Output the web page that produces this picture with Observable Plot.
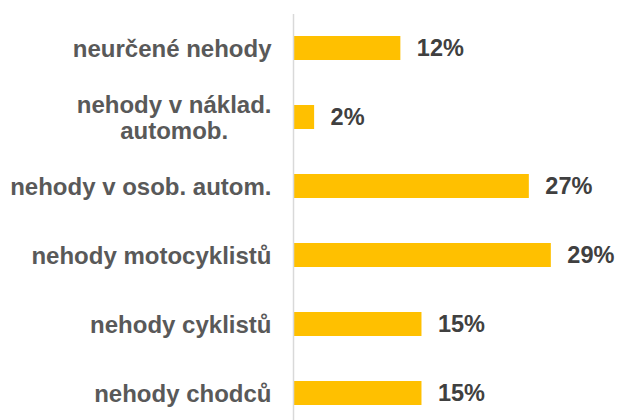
<!DOCTYPE html>
<html>
<head>
<meta charset="utf-8">
<script src="https://cdn.jsdelivr.net/npm/d3@7"></script>
<script src="https://cdn.jsdelivr.net/npm/@observablehq/plot@0.6"></script>
<style>
  html, body { margin: 0; padding: 0; background: #fff; }
  #chart { width: 617px; height: 420px; overflow: hidden; }
</style>
</head>
<body>
<div id="chart"></div>
<script>
const categories = [
  "neurčené nehody",
  "nehody v náklad.\nautomob.",
  "nehody v osob. autom.",
  "nehody motocyklistů",
  "nehody cyklistů",
  "nehody chodců"
];
const values = [12.2, 2.4, 26.8, 29.3, 14.6, 14.6];
const valueLabels = ["12%", "2%", "27%", "29%", "15%", "15%"];

const data = categories.map((c, i) => ({category: c, value: values[i], label: valueLabels[i]}));

const font = "'Liberation Sans', Arial, sans-serif";

const chart = Plot.plot({
  width: 617,
  height: 420,
  marginTop: 14,
  marginBottom: 0,
  marginLeft: 293,
  marginRight: 60,
  style: {fontFamily: font, background: "#fff"},
  x: {domain: [0, 30], range: [293, 557], axis: null},
  y: {domain: categories, range: [13.5, 427.5], paddingInner: 0.652, paddingOuter: 0.326, align: 0.5, axis: null},
  marks: [
    Plot.barX(data, {x: "value", y: "category", fill: "#FFC000"}),
    Plot.ruleX([0], {stroke: "#D9D9D9", strokeWidth: 1.5}),
    Plot.text(data, {
      x: "value", y: "category", text: "label", textAnchor: "start", dx: 16,
      fill: "#404040", fontSize: 23.5, fontWeight: "bold", fontFamily: font
    }),
    Plot.text(data, {
      x: 0, y: "category", text: "category", textAnchor: "end", dx: -22,
      fill: "#595959", fontSize: 24, fontWeight: "bold", fontFamily: font,
      lineHeight: 1.1, className: "cat-label"
    })
  ]
});
document.getElementById("chart").appendChild(chart);

// center the lines of multi-line category labels within their right-aligned block
chart.querySelectorAll(".cat-label text").forEach(t => {
  const spans = t.querySelectorAll("tspan");
  if (spans.length > 1) {
    let maxW = 0;
    spans.forEach(s => { maxW = Math.max(maxW, s.getComputedTextLength()); });
    t.setAttribute("text-anchor", "middle");
    t.setAttribute("transform", (t.getAttribute("transform") || "") + ` translate(${-maxW / 2},0)`);
  }
});
</script>
</body>
</html>
